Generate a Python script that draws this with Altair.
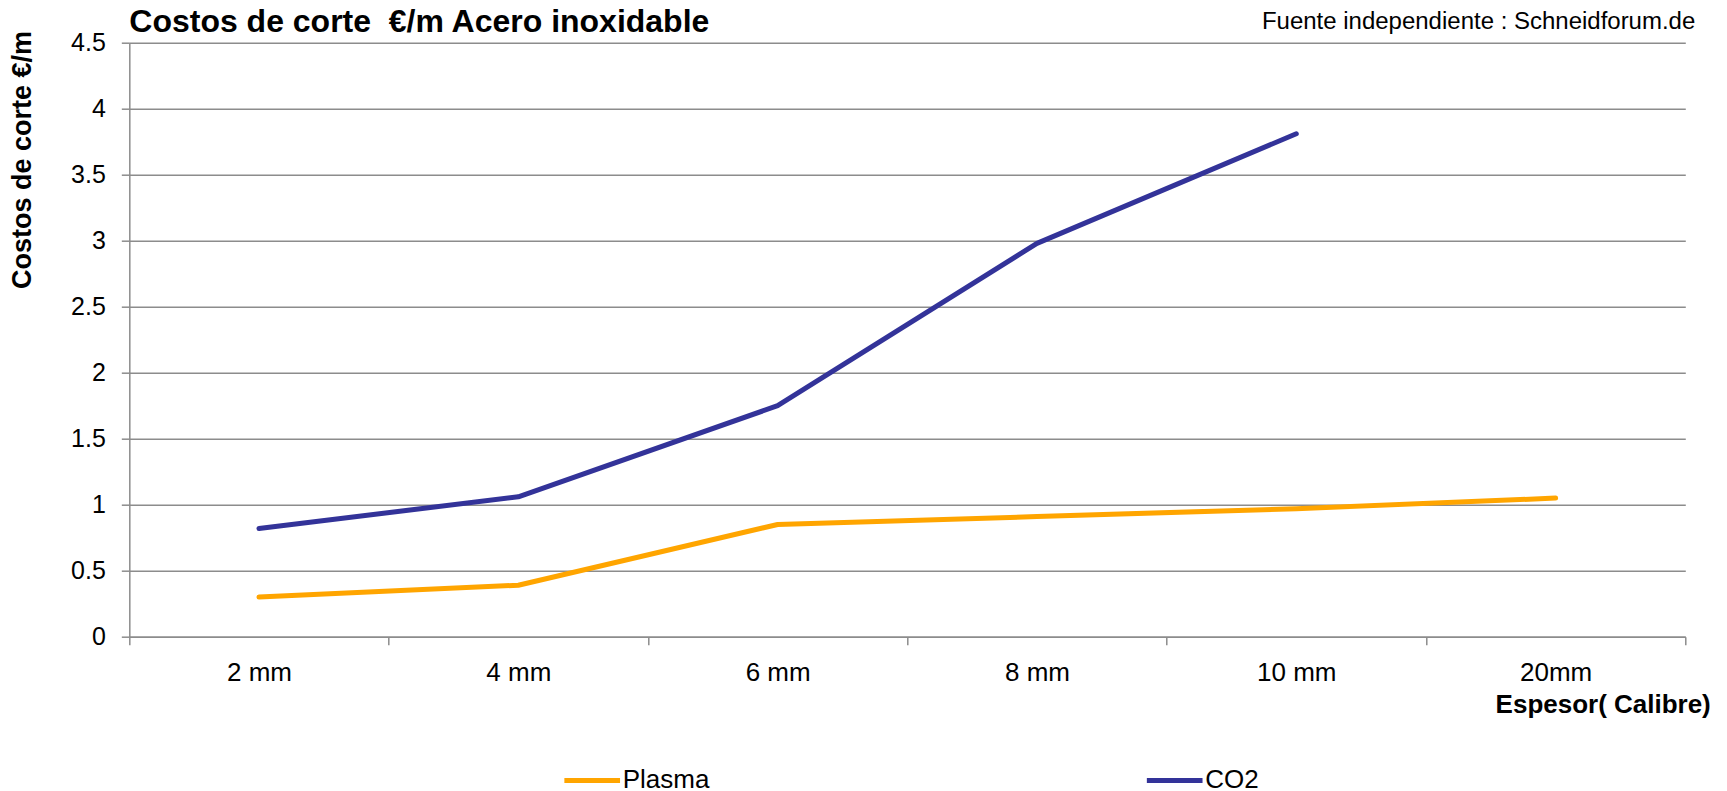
import altair as alt
import pandas as pd

# ---- data ----
categories = ["2 mm", "4 mm", "6 mm", "8 mm", "10 mm", "20mm"]
plasma = [0.30, 0.39, 0.85, 0.91, 0.97, 1.05]
co2 = [0.82, 1.06, 1.75, 2.98, 3.81, None]
series_names = ["Plasma", "CO2"]
series_colors = ["#FFA500", "#333399"]
y_ticks = [0, 0.5, 1, 1.5, 2, 2.5, 3, 3.5, 4, 4.5]
title_text = "Costos de corte\u00a0 €/m Acero inoxidable"
source_text = "Fuente independiente : Schneidforum.de"
x_title = "Espesor( Calibre)"
y_title = "Costos de corte €/m"

rows = []
for cat, p, c in zip(categories, plasma, co2):
    rows.append({"Espesor": cat, "Serie": "Plasma", "Costo": p})
    if c is not None:
        rows.append({"Espesor": cat, "Serie": "CO2", "Costo": c})
df = pd.DataFrame(rows)

W, H = 1556, 594
FONT = "Liberation Sans"
GRID = "#8c8c8c"

lines = alt.Chart(df).mark_line(strokeWidth=5, strokeCap="round", strokeJoin="round").encode(
    x=alt.X(
        "Espesor:N",
        sort=categories,
        scale=alt.Scale(type="band", paddingInner=0, paddingOuter=0),
        axis=alt.Axis(
            title=x_title,
            labelAngle=0,
            tickBand="extent",
            tickSize=8,
            labelPadding=15,
            labelFontSize=26,
            labelFont=FONT,
            labelColor="black",
            grid=False,
            domainColor=GRID,
            tickColor=GRID,
            domainWidth=1.5,
            tickWidth=1.5,
            titleFont=FONT,
            titleFontSize=26,
            titleFontWeight="bold",
            titleColor="black",
            titleX=1581,
            titleY=76,
            titleAlign="right",
            titleBaseline="alphabetic",
            titleAngle=0,
        ),
    ),
    y=alt.Y(
        "Costo:Q",
        scale=alt.Scale(domain=[0, 4.5], nice=False, zero=True),
        axis=alt.Axis(
            values=y_ticks,
            format="~g",
            title=y_title,
            tickSize=8,
            labelPadding=16,
            labelFontSize=25,
            labelFont=FONT,
            labelColor="black",
            grid=True,
            gridColor=GRID,
            gridOpacity=1,
            gridWidth=1.5,
            domainColor=GRID,
            tickColor=GRID,
            domainWidth=1.5,
            tickWidth=1.5,
            titleFont=FONT,
            titleFontSize=27,
            titleFontWeight="bold",
            titleColor="black",
            titleX=-98.5,
            titleY=-12.2,
            titleAlign="right",
            titleBaseline="alphabetic",
            titleAngle=270,
        ),
    ),
    color=alt.Color(
        "Serie:N",
        sort=series_names,
        scale=alt.Scale(domain=series_names, range=series_colors),
        legend=alt.Legend(
            title=None,
            orient="none",
            legendX=432.4,
            legendY=707,
            direction="horizontal",
            columns=2,
            columnPadding=426.5,
            symbolType="stroke",
            symbolSize=3100,
            symbolStrokeWidth=5,
            labelFontSize=26,
            labelFont=FONT,
            labelColor="black",
            labelOffset=0,
            padding=0,
        ),
    ),
)

source = alt.Chart(pd.DataFrame({"t": [source_text]})).mark_text(
    align="right", baseline="alphabetic", fontSize=24, font=FONT, color="black"
).encode(
    x=alt.value(1566),
    y=alt.value(-13.4),
    text="t:N",
)

chart = alt.layer(lines, source).properties(
    width=W,
    height=H,
    background="white",
    title=alt.TitleParams(
        text=title_text,
        anchor="start",
        frame="group",
        font=FONT,
        fontSize=32,
        fontWeight="bold",
        color="black",
        dx=0,
        dy=33,
        offset=4,
    ),
    autosize=alt.AutoSizeParams(type="none"),
    padding={"left": 121.3, "top": 34.7, "right": 30, "bottom": 154},
).configure_view(stroke=None)

chart.save("out.html", embed_options={"renderer": "svg", "actions": False})
